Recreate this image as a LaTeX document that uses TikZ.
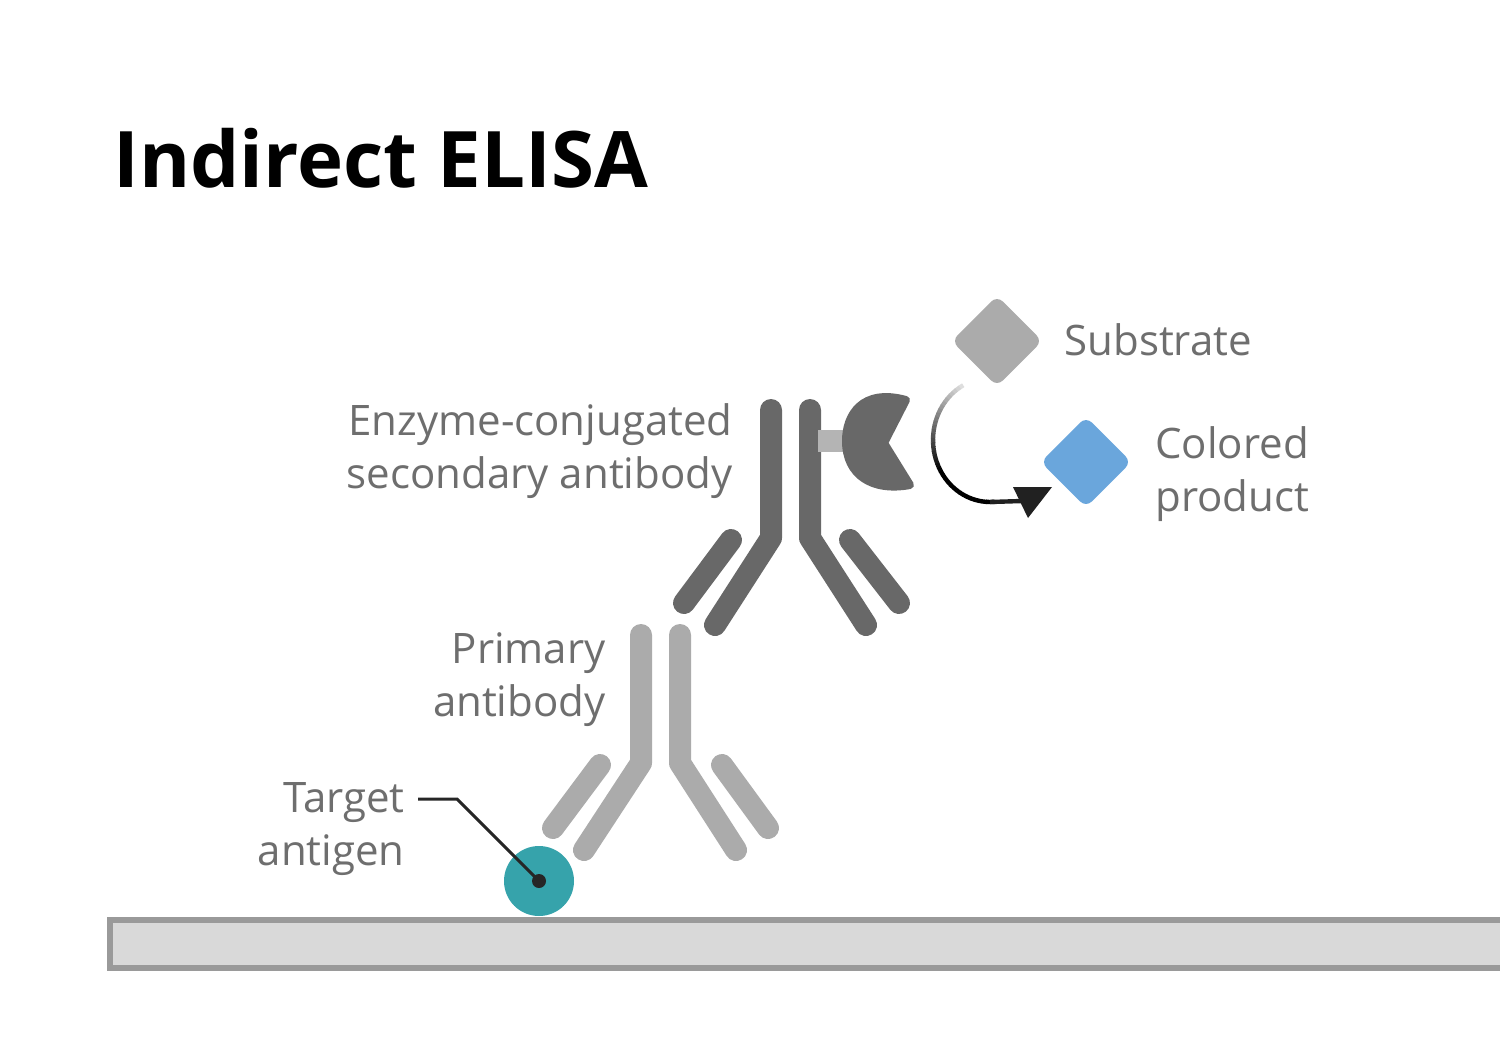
\documentclass[tikz,border=0pt]{standalone}
\usepackage{fontspec}
\setmainfont{Open Sans}
\begin{document}
\begin{tikzpicture}[x=0.5pt,y=-0.5pt,
  lab/.style={text=labgray,font=\fontsize{21}{26.5}\selectfont,align=right,inner sep=0},
  labl/.style={lab,align=left},
  pri/.style={draw=prigray,line width=11pt,line cap=round,line join=round},
  sec/.style={draw=secgray,line width=11pt,line cap=round,line join=round},
  dia/.style={line width=8pt,line join=round,minimum size=24pt,rotate=45,inner sep=0}]
\definecolor{labgray}{HTML}{6E6E6E}
\definecolor{prigray}{HTML}{ABABAB}
\definecolor{secgray}{HTML}{686868}
\definecolor{teal}{HTML}{36A3AB}
\definecolor{blue}{HTML}{6AA6DC}
\useasboundingbox (0,0) rectangle (1500,1050);
\fill[white] (0,0) rectangle (1500,1050);
% title
\node[anchor=base west,inner sep=0,font=\fontsize{39}{46}\selectfont\bfseries] (title) at (113,187) {Indirect ELISA};
% plate
\draw[draw=prigray!90!black,fill=black!15,line width=3pt] (110,920) rectangle (1510,968);
% primary antibody
\draw[pri] (641,635) -- (641,763) -- (584,850);
\draw[pri] (680,635) -- (680,763) -- (736,850);
\draw[pri] (600,765) -- (553,828);
\draw[pri] (722,765) -- (768,828);
% secondary antibody
\draw[sec] (771,410) -- (771,538) -- (715,625);
\draw[sec] (810,410) -- (810,538) -- (866,625);
\draw[sec] (731,540) -- (684,603);
\draw[sec] (850,540) -- (899,603);
% linker and enzyme
\fill[prigray!90] (818,430) rectangle (852,452);
\filldraw[secgray,line width=4pt,line join=round] (906,400) .. controls (862,388) and (846,415) .. (846,441)
  .. controls (846,475) and (872,492) .. (910,485) -- (884,443) -- cycle;
% substrate and product
\node[dia,draw=prigray,fill=prigray] (sub) at (997,341) {};
\node[dia,draw=blue,fill=blue] (prod) at (1086,462) {};
% gradient arrow
\foreach \a in {118,122,...,270}{
  \pgfmathsetmacro\p{min(100,(\a-118)*100/90)}
  \pgfmathsetmacro\b{\a+4.5}
  \draw[line width=2.2pt,color=black!\p!white!87!black] (990+57*cos \a,440-62*sin \a) -- (990+57*cos \b,440-62*sin \b);
}
\coordinate (arrEnd) at (1022,501);
\draw[black!87,line width=2.2pt] (990,502) -- (arrEnd);
\fill[black!87] (1013,487) -- (1052,487) -- (1028,518) -- cycle;
% antigen
\node[circle,fill=teal,minimum size=35pt,inner sep=0] (ag) at (539,881) {};
\fill[black!85] (ag.center) circle (3.5pt);
\coordinate (lead) at (418,799);
\draw[black!85,line width=1.5pt] (lead) -- (457,799) -- (ag.center);
% labels
\node[lab,anchor=base east] (l1) at (733,488) {Enzyme-conjugated\\secondary antibody};
\node[lab,anchor=base east] (l2) at (606,716) {Primary\\antibody};
\node[lab,anchor=base east] (l3) at (405,865) {Target\\antigen};
\node[labl,anchor=base west] (l4) at (1064,355) {Substrate};
\node[labl,anchor=base west] (l5) at (1155,511) {Colored\\product};
\end{tikzpicture}
\end{document}
